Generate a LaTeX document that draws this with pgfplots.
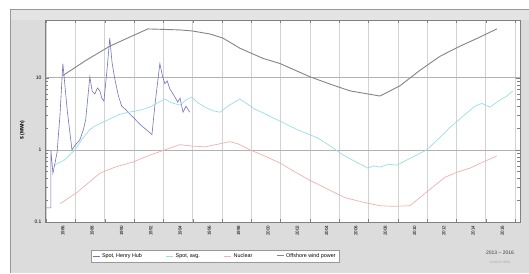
\documentclass[border=0pt]{standalone}
\usepackage{fontspec}
\setmainfont{Liberation Sans}
\usepackage{pgfplots}
\pgfplotsset{compat=1.18}
\definecolor{panelgray}{HTML}{DCDCDC}
\definecolor{bandgray}{HTML}{E4E4E4}
\definecolor{cgray}{HTML}{858585}
\definecolor{ccyan}{HTML}{9ADFE2}
\definecolor{cred}{HTML}{F3B0B0}
\definecolor{cpurple}{HTML}{7474B8}
\begin{document}
\begin{tikzpicture}
\useasboundingbox (0,0) rectangle (529pt,273pt);
\fill[white] (0,0) rectangle (529pt,273pt);
\fill[panelgray] (10pt,0) rectangle (529pt,264pt);
\fill[bandgray] (10pt,253pt) rectangle (529pt,264pt);
\draw[gray!80] (10pt,0) -- (10pt,264pt) -- (529pt,264pt);
\begin{axis}[
  at={(45pt,51pt)}, anchor=south west,
  scale only axis, width=475pt, height=202pt,
  axis background/.style={fill=white},
  ymode=log, ymin=0.1, ymax=63,
  xmin=-0.61, xmax=15.6,
  ytick={0.1,1,10}, yticklabels={0.1,1,10},
  ymajorgrids, major grid style={gray!60, line width=0.5pt},
  xtick={0,...,15},
  xticklabels={1986,1988,1990,1992,1994,1996,1998,2000,2002,2004,2006,2008,2010,2012,2014,2016},
  major x tick style={draw=none},
  minor xtick={-0.57,0.43,1.43,2.43,3.43,4.43,5.43,6.43,7.43,8.43,9.43,10.43,11.43,12.43,13.43,14.43,15.43},
  xminorgrids, minor x grid style={gray!35, line width=0.6pt},
  minor x tick style={gray},
  xticklabel style={rotate=90, anchor=east, font=\fontsize{4.5}{5}\selectfont},
  yticklabel style={font=\fontsize{5}{6}\selectfont},
  /pgf/number format/assume math mode=true,
  axis line style={gray},
  tick style={gray},
  ylabel={\$ (MWh)},
  ylabel style={at={(axis description cs:-0.048,0.455)}, anchor=center, font=\fontsize{5}{6}\selectfont\bfseries},
  legend style={at={(axis description cs:0.358,-0.168)}, anchor=center, legend columns=4,
    font=\fontsize{5.4}{6}\selectfont, draw=gray!80, fill=white, inner sep=1.5pt,
    /tikz/every even column/.append style={column sep=22pt}},
  legend image code/.code={\draw[#1] (0pt,0pt) -- (7pt,0pt);},
]
\addplot[cpurple, line width=0.6pt] coordinates {
(-0.58,0.157) (-0.41,0.157) (-0.41,1.0) (-0.34,0.474) (-0.20,0.907) (-0.10,3.0) (0,15.7)
(0.15,3.5) (0.31,1.0) (0.45,1.2) (0.58,1.38) (0.70,1.9) (0.78,2.65) (0.92,10.3)
(1.00,6.5) (1.09,5.95) (1.18,7.2) (1.26,6.56) (1.33,5.2) (1.40,4.74) (1.50,12) (1.60,35.4)
(1.68,16) (1.77,9.68) (1.90,5.5) (2.01,4.03) (2.15,3.6) (2.29,3.11) (2.45,2.7) (2.63,2.25)
(2.85,1.9) (3.04,1.63) (3.15,4.5) (3.31,15.7) (3.40,10.5) (3.48,8.23) (3.56,9.0) (3.65,7.0)
(3.80,5.6) (3.92,4.59) (4.00,5.2) (4.10,3.32) (4.20,4.03) (4.33,3.32)
};
\addlegendentry{Spot, Henry Hub}
\addplot[ccyan, line width=0.7pt] coordinates {
(-0.27,0.62) (0.05,0.72) (0.41,1.0) (0.65,1.4) (0.92,1.91) (1.15,2.2) (1.43,2.48) (1.70,2.8)
(1.95,3.11) (2.20,3.3) (2.46,3.43) (2.70,3.6) (2.97,3.91) (3.20,4.4) (3.48,5.06) (3.70,4.5)
(3.99,4.17) (4.20,4.9) (4.40,5.40) (4.60,4.5) (4.85,3.91) (5.10,3.5) (5.36,3.32) (5.70,4.2)
(6.04,5.06) (6.30,4.3) (6.55,3.66) (6.80,3.3) (7.06,2.92) (7.50,2.4) (7.99,1.91) (8.30,1.7)
(8.67,1.48) (9.10,1.15) (9.56,0.85) (10.00,0.68) (10.41,0.557) (10.60,0.6) (10.82,0.576)
(11.10,0.63) (11.40,0.615) (11.90,0.78) (12.42,1.0) (12.80,1.4) (13.21,2.04) (13.60,2.8)
(14.06,4.03) (14.30,4.4) (14.57,3.91) (14.85,4.7) (15.15,5.57) (15.36,6.56)
};
\addlegendentry{Spot, avg.}
\addplot[cred, line width=0.7pt] coordinates {
(-0.10,0.179) (0.48,0.256) (1.26,0.474) (1.80,0.58) (2.39,0.678) (2.95,0.84) (3.48,1.0)
(3.99,1.18) (4.40,1.13) (4.85,1.10) (5.30,1.2) (5.70,1.30) (6.00,1.2) (6.38,1.0) (6.90,0.82)
(7.41,0.656) (7.90,0.5) (8.43,0.378) (9.00,0.29) (9.62,0.218) (10.20,0.19) (10.82,0.168)
(11.30,0.165) (11.84,0.168) (12.35,0.248) (13.04,0.417) (13.45,0.49) (13.89,0.557)
(14.35,0.68) (14.81,0.823)
};
\addlegendentry{Nuclear}
\addplot[cgray, line width=0.9pt] coordinates {
(0,10.7) (0.80,17.5) (1.60,27.3) (2.25,36) (2.90,47.4) (3.99,45.9) (4.40,44.5) (5.02,40.3)
(5.46,35.4) (6.04,25.6) (6.83,18.5) (7.41,15.7) (8.43,10.3) (9.10,8.2) (9.80,6.56)
(10.82,5.57) (11.50,7.71) (12.18,12.6) (12.87,19.8) (13.55,27.3) (14.20,36) (14.81,47.4)
};
\addlegendentry{Offshore wind power}
\end{axis}
\node[font=\fontsize{5}{6}\selectfont, text=black!75] at (500pt,20pt) {2013 -- 2016};
\node[font=\fontsize{4}{5}\selectfont, text=black!30] at (500pt,11pt) {source data};
\end{tikzpicture}
\end{document}
